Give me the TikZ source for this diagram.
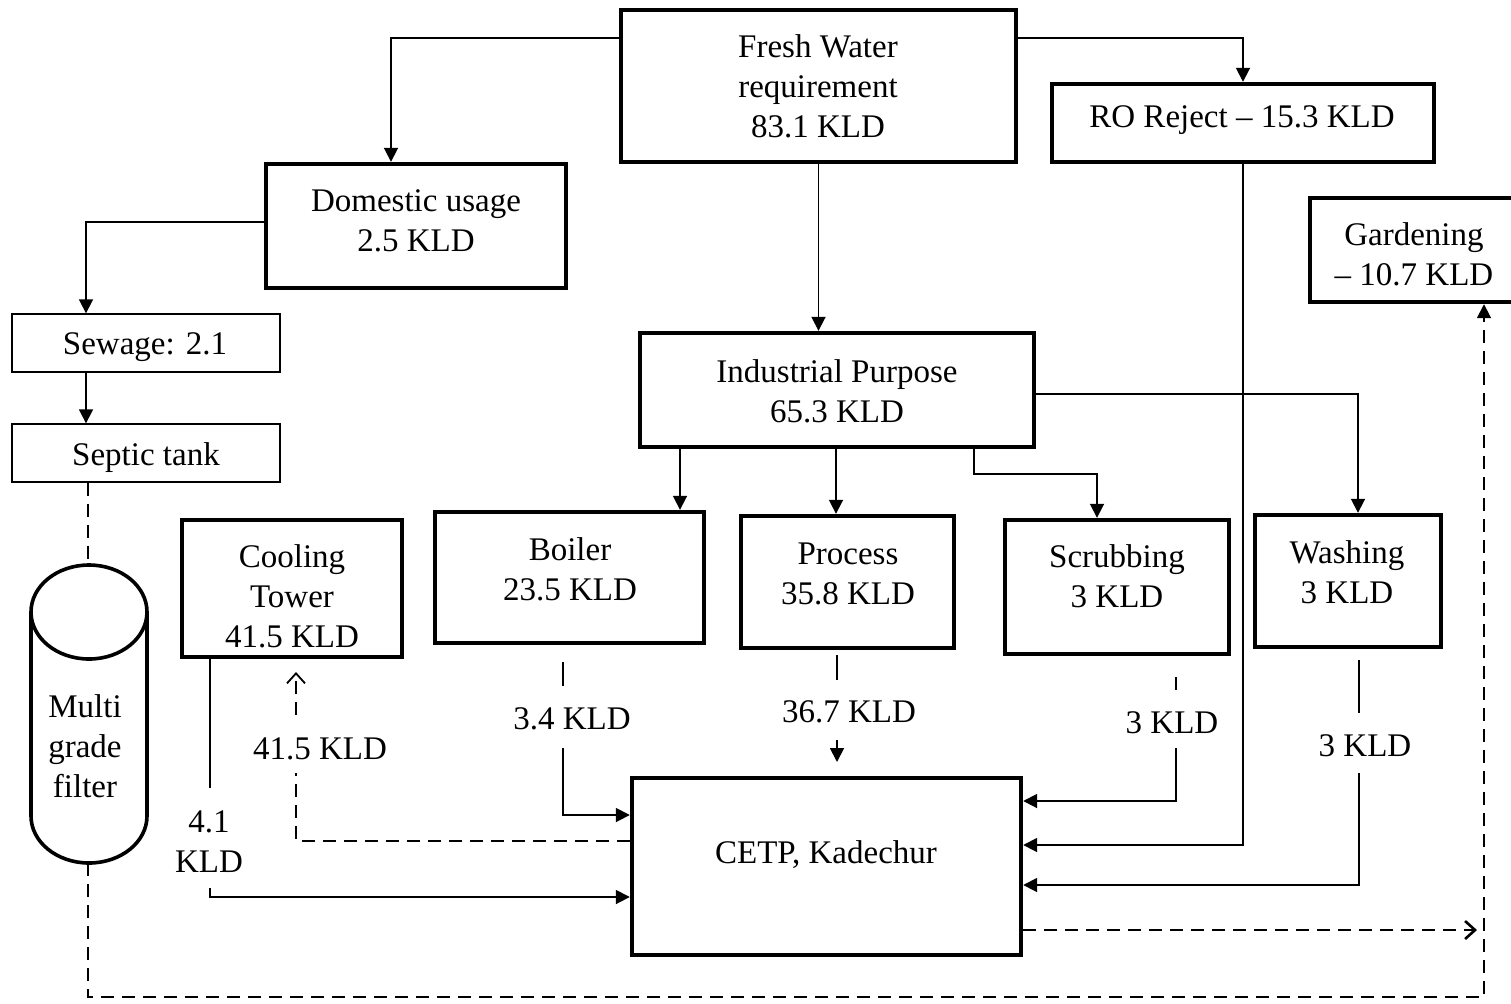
\documentclass[tikz,border=0pt]{standalone}
\usepackage{fontspec}
\setmainfont{Liberation Serif}
\usetikzlibrary{arrows.meta}
\tikzset{
  box/.style={draw, line width=2.2pt, inner sep=0pt},
  thinbox/.style={draw, line width=0.7pt, inner sep=0pt},
  txt/.style={align=center, inner sep=0pt, yshift=-1.5pt, font=\fontsize{16.5}{20}\selectfont},
  conn/.style={line width=0.9pt},
  arr/.style={conn, -{Triangle[length=7pt,width=7pt]}},
  dsh/.style={line width=0.9pt, dash pattern=on 6.5pt off 4pt},
  dsharr/.style={dsh, -{Triangle[length=7pt,width=7pt]}},
  openarr/.style={dsh, -{Straight Barb[length=5pt,width=9pt]}},
}
\begin{document}
\begin{tikzpicture}[x=0.5pt,y=-0.5pt]
\useasboundingbox (0,0) rectangle (1511,1003);
% boxes
\node[box, minimum width=197.5pt, minimum height=76pt] (fresh) at (818.5,86) {};
\node[box, minimum width=191pt, minimum height=39pt] (ro) at (1243,123) {};
\node[box, minimum width=150pt, minimum height=62pt] (dom) at (416,226) {};
\node[thinbox, minimum width=134pt, minimum height=29pt] (sew) at (146,343) {};
\node[thinbox, minimum width=134pt, minimum height=29pt] (sep) at (146,453) {};
\node[box, minimum width=102.5pt, minimum height=52pt] (garden) at (1412.5,250) {};
\node[box, minimum width=197pt, minimum height=57pt] (ind) at (837,390) {};
\node[box, minimum width=110pt, minimum height=68.5pt] (cool) at (292,588.5) {};
\node[box, minimum width=134.5pt, minimum height=65.5pt] (boiler) at (569.5,577.5) {};
\node[box, minimum width=106.5pt, minimum height=66pt] (proc) at (847.5,582) {};
\node[box, minimum width=112pt, minimum height=67pt] (scrub) at (1117,587) {};
\node[box, minimum width=93pt, minimum height=66pt] (wash) at (1348,581) {};
\node[box, minimum width=194.5pt, minimum height=88.5pt] (cetp) at (826.5,866.5) {};
% filter cylinder
\draw[line width=1.8pt] (31,612) -- (31,816) arc[start angle=180,end angle=360,x radius=29pt,y radius=23.5pt] -- (147,612);
\draw[line width=1.8pt] (89,612) ellipse[x radius=29pt,y radius=23.5pt];
\coordinate (filtertop) at (88,565);
\coordinate (filterbot) at (88,863);
% texts
\node[txt] (freshT) at (818,83) {Fresh Water\\requirement\\83.1 KLD};
\node[txt] (roT) at (1242,117) {RO Reject – 15.3 KLD};
\node[txt] (domT) at (416,218) {Domestic usage\\2.5 KLD};
\node[txt] (sewT) at (145,344) {Sewage: 2.1};
\node[txt] (sepT) at (146,455) {Septic tank};
\node[txt] (gardenT) at (1414,251) {Gardening\\– 10.7 KLD};
\node[txt] (indT) at (837,388) {Industrial Purpose\\65.3 KLD};
\node[txt] (coolT) at (292,593) {Cooling\\Tower\\41.5 KLD};
\node[txt] (boilerT) at (570,566) {Boiler\\23.5 KLD};
\node[txt] (procT) at (848,571) {Process\\35.8 KLD};
\node[txt] (scrubT) at (1117,573) {Scrubbing\\3 KLD};
\node[txt] (washT) at (1347,569) {Washing\\3 KLD};
\node[txt] (cetpT) at (826,852) {CETP, Kadechur};
\node[txt] (filterT) at (85,743) {Multi\\grade\\filter};
\node[txt] (l41) at (209,839) {4.1\\KLD};
\node[txt] (l415) at (320,746) {41.5 KLD};
\node[txt] (l34) at (572,716) {3.4 KLD};
\node[txt] (l367) at (849,709) {36.7 KLD};
\node[txt] (l3a) at (1172,720) {3 KLD};
\node[txt] (l3b) at (1365,743) {3 KLD};
% connectors from fresh water
\draw[arr] (fresh.west |- 0,38) -- (391,38) -- (391,0 |- dom.north);
\draw[arr] (fresh.east |- 0,38) -| (ro.north);
\draw[arr] (fresh.south) -- (fresh.south |- ind.north);
% domestic chain
\draw[arr] (dom.west |- 0,222) -- (86,222) -- (86,0 |- sew.north);
\draw[arr] (86,0 |- sew.south) -- (86,0 |- sep.north);
\draw[dsh] (88,0 |- sep.south) -- (filtertop);
\draw[dsharr] (filterbot) -- (88,997) -- (1484,997) -- (1484,0 |- garden.south);
% industrial branches
\draw[arr] (680,0 |- ind.south) -- (680,0 |- boiler.north);
\draw[arr] (836,0 |- ind.south) -- (836,0 |- proc.north);
\draw[arr] (974,0 |- ind.south) -- (974,474) -- (1097,474) -- (1097,0 |- scrub.north);
\draw[arr] (ind.east |- 0,394) -- (1358,394) -- (1358,0 |- wash.north);
% RO reject to CETP
\draw[arr] (ro.south) -- (ro.south |- 0,845) -- (cetp.east |- 0,845);
% cooling tower
\draw[conn] (210,0 |- cool.south) -- (210,788);
\draw[arr] (210,888) -- (210,897) -- (cetp.west |- 0,897);
\draw[dsh] (cetp.west |- 0,841) -- (296,841) -- (296,773);
\draw[openarr] (296,715) -- (296,672);
% boiler
\draw[conn] (563,662) -- (563,686);
\draw[arr] (563,748) -- (563,815) -- (cetp.west |- 0,815);
% process
\draw[conn] (837,655) -- (837,680);
\draw[arr] (837,740) -- (837,762);
% scrubbing
\draw[conn] (1176,677) -- (1176,690);
\draw[arr] (1176,748) -- (1176,801) -- (cetp.east |- 0,801);
% washing
\draw[conn] (1359,660) -- (1359,713);
\draw[arr] (1359,773) -- (1359,885) -- (cetp.east |- 0,885);
% CETP to gardening line
\draw[openarr, line width=1.3pt] (cetp.east |- 0,930) -- (1477,930);
\end{tikzpicture}
\end{document}
